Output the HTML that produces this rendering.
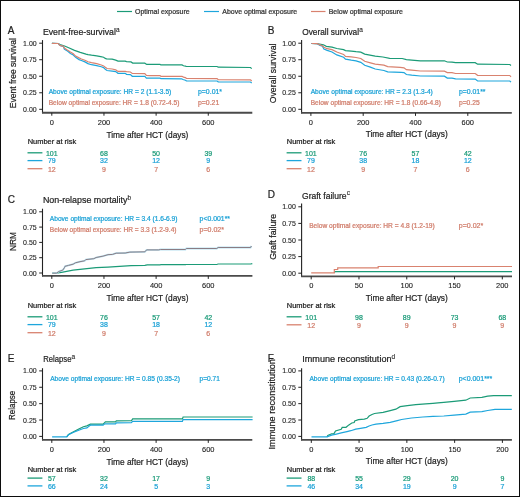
<!DOCTYPE html>
<html><head><meta charset="utf-8"><style>
html,body{margin:0;padding:0;background:#fff;}
#fig{position:relative;width:520px;height:497px;box-sizing:border-box;border:1px solid #0c0c0c;background:#fff;overflow:hidden;}
svg{position:absolute;left:-1px;top:-1px;}
text{font-family:"Liberation Sans", sans-serif;paint-order:stroke;}
svg{-webkit-font-smoothing:antialiased;will-change:transform;filter:blur(0.3px);}
</style></head><body><div id="fig">
<svg width="520" height="497" viewBox="0 0 520 497">
<line x1="117" y1="11.5" x2="132" y2="11.5" stroke="#1b9b77" stroke-width="1.2"/>
<text x="135" y="13.7" font-size="6.6" fill="#333" stroke="#333" stroke-width="0.22" text-anchor="start" textLength="54.7" lengthAdjust="spacingAndGlyphs">Optimal exposure</text>
<line x1="204" y1="11.5" x2="219" y2="11.5" stroke="#1ea6dc" stroke-width="1.2"/>
<text x="222.3" y="13.7" font-size="6.6" fill="#333" stroke="#333" stroke-width="0.22" text-anchor="start" textLength="74.8" lengthAdjust="spacingAndGlyphs">Above optimal exposure</text>
<line x1="311" y1="11.5" x2="325.5" y2="11.5" stroke="#d9826f" stroke-width="1.2"/>
<text x="328.7" y="13.7" font-size="6.6" fill="#333" stroke="#333" stroke-width="0.22" text-anchor="start" textLength="74.2" lengthAdjust="spacingAndGlyphs">Below optimal exposure</text>
<text x="7.8" y="34.4" font-size="10" fill="#222" stroke="#222" stroke-width="0.22" text-anchor="start">A</text>
<text x="42.9" y="35" font-size="9.3" fill="#222" stroke="#222" stroke-width="0.22" text-anchor="start" textLength="73" lengthAdjust="spacingAndGlyphs">Event-free-survival</text>
<text x="116.0" y="31.7" font-size="6.5" fill="#222" stroke="#222" stroke-width="0.1" text-anchor="start">a</text>
<line x1="42.5" y1="40.1" x2="42.5" y2="113.2" stroke="#222" stroke-width="1.1"/>
<line x1="39.2" y1="109.3" x2="42.5" y2="109.3" stroke="#222" stroke-width="1"/>
<text x="36.7" y="111.8" font-size="8" fill="#222" stroke="#222" stroke-width="0.12" text-anchor="end" textLength="13.6" lengthAdjust="spacingAndGlyphs">0.00</text>
<line x1="39.2" y1="92.775" x2="42.5" y2="92.775" stroke="#222" stroke-width="1"/>
<text x="36.7" y="95.275" font-size="8" fill="#222" stroke="#222" stroke-width="0.12" text-anchor="end" textLength="13.6" lengthAdjust="spacingAndGlyphs">0.25</text>
<line x1="39.2" y1="76.25" x2="42.5" y2="76.25" stroke="#222" stroke-width="1"/>
<text x="36.7" y="78.75" font-size="8" fill="#222" stroke="#222" stroke-width="0.12" text-anchor="end" textLength="13.6" lengthAdjust="spacingAndGlyphs">0.50</text>
<line x1="39.2" y1="59.725" x2="42.5" y2="59.725" stroke="#222" stroke-width="1"/>
<text x="36.7" y="62.225" font-size="8" fill="#222" stroke="#222" stroke-width="0.12" text-anchor="end" textLength="13.6" lengthAdjust="spacingAndGlyphs">0.75</text>
<line x1="39.2" y1="43.2" x2="42.5" y2="43.2" stroke="#222" stroke-width="1"/>
<text x="36.7" y="45.7" font-size="8" fill="#222" stroke="#222" stroke-width="0.12" text-anchor="end" textLength="13.6" lengthAdjust="spacingAndGlyphs">1.00</text>
<line x1="42.0" y1="112.7" x2="252.3" y2="112.7" stroke="#4a4a4a" stroke-width="1.9"/>
<line x1="51.8" y1="112.7" x2="51.8" y2="115.7" stroke="#222" stroke-width="1"/>
<text x="51.8" y="124.6" font-size="8" fill="#222" stroke="#222" stroke-width="0.12" text-anchor="middle" textLength="4.15" lengthAdjust="spacingAndGlyphs">0</text>
<line x1="103.96" y1="112.7" x2="103.96" y2="115.7" stroke="#222" stroke-width="1"/>
<text x="103.96" y="124.6" font-size="8" fill="#222" stroke="#222" stroke-width="0.12" text-anchor="middle" textLength="12.45" lengthAdjust="spacingAndGlyphs">200</text>
<line x1="156.12" y1="112.7" x2="156.12" y2="115.7" stroke="#222" stroke-width="1"/>
<text x="156.12" y="124.6" font-size="8" fill="#222" stroke="#222" stroke-width="0.12" text-anchor="middle" textLength="12.45" lengthAdjust="spacingAndGlyphs">400</text>
<line x1="208.27999999999997" y1="112.7" x2="208.27999999999997" y2="115.7" stroke="#222" stroke-width="1"/>
<text x="208.27999999999997" y="124.6" font-size="8" fill="#222" stroke="#222" stroke-width="0.12" text-anchor="middle" textLength="12.45" lengthAdjust="spacingAndGlyphs">600</text>
<text x="147.4" y="137.5" font-size="9.5" fill="#222" stroke="#222" stroke-width="0.22" text-anchor="middle" textLength="82" lengthAdjust="spacingAndGlyphs">Time after HCT (days)</text>
<text transform="translate(15.9,73.15) rotate(-90)" x="0" y="0" font-size="9.6" fill="#222" stroke="#222" stroke-width="0.22" text-anchor="middle" textLength="70.3" lengthAdjust="spacingAndGlyphs">Event free survival</text>
<text x="48.7" y="94.3" font-size="6.5" fill="#1aa1d6" stroke="#1aa1d6" stroke-width="0.22" text-anchor="start" textLength="122.6" lengthAdjust="spacingAndGlyphs">Above optimal exposure: HR = 2 (1.1-3.5)</text>
<text x="198" y="94.3" font-size="6.5" fill="#1aa1d6" stroke="#1aa1d6" stroke-width="0.22" text-anchor="start" textLength="24" lengthAdjust="spacingAndGlyphs">p=0.01*</text>
<text x="48.7" y="105" font-size="6.5" fill="#d07c6a" stroke="#d07c6a" stroke-width="0.22" text-anchor="start" textLength="130.7" lengthAdjust="spacingAndGlyphs">Below optimal exposure: HR = 1.8 (0.72-4.5)</text>
<text x="198" y="105" font-size="6.5" fill="#d07c6a" stroke="#d07c6a" stroke-width="0.22" text-anchor="start" textLength="21.3" lengthAdjust="spacingAndGlyphs">p=0.21</text>
<polyline points="51.90,43.40 58.20,43.50 60.00,44.50 64.60,46.00 68.70,47.80 74.50,50.40 80.20,52.40 86.00,54.10 88.00,54.60 91.50,55.20 96.70,55.80 100.70,56.60 103.60,57.20 105.30,58.40 106.50,58.90 112.20,59.20 115.70,60.10 118.00,61.10 125.20,61.10 126.50,61.60 131.00,61.90 132.70,63.10 144.80,63.20 146.70,64.40 160.00,64.40 160.90,64.90 182.00,64.90 183.50,65.80 185.40,66.10 186.40,66.50 217.10,66.50 218.20,67.20 250.50,67.50 251.70,68.60" fill="none" stroke="#1b9b77" stroke-width="1.2" stroke-linejoin="miter"/>
<polyline points="51.90,43.40 58.20,43.50 60.00,45.40 63.50,46.60 64.30,49.20 66.90,50.60 70.40,53.50 73.30,55.00 75.60,57.30 79.10,59.60 81.40,60.50 84.90,61.90 88.00,63.60 91.50,64.70 96.70,65.60 101.30,66.70 103.60,67.60 105.30,69.30 107.00,70.50 112.20,71.10 115.70,71.60 118.00,73.30 125.20,73.30 126.50,74.30 130.40,74.60 132.30,76.30 144.80,76.40 146.40,78.20 160.00,78.20 160.90,78.70 181.60,78.80 183.00,79.50 185.40,80.20 186.40,80.80 217.10,81.00 218.20,81.80 250.50,82.00 251.70,83.00" fill="none" stroke="#1ea6dc" stroke-width="1.2" stroke-linejoin="miter"/>
<polyline points="51.90,43.40 58.20,43.50 60.00,45.40 63.50,46.30 64.30,48.00 66.90,49.80 70.40,52.10 73.30,53.80 75.60,56.10 79.10,57.90 81.40,59.00 84.90,60.20 88.00,61.80 91.50,62.70 96.70,63.60 101.30,65.00 103.60,65.90 105.30,67.30 107.00,68.50 112.20,69.00 115.70,69.80 118.00,71.40 125.20,71.40 126.50,71.70 130.40,72.00 132.30,73.50 144.80,73.60 146.40,75.30 150.00,75.60 160.00,75.60 160.90,76.30 182.00,76.30 183.50,77.10 185.40,77.60 186.40,78.30 217.10,78.60 218.20,79.60 250.50,79.80 251.70,81.00" fill="none" stroke="#d9826f" stroke-width="1.2" stroke-linejoin="miter"/>
<text x="27.7" y="144.1" font-size="6.8" fill="#222" stroke="#222" stroke-width="0.22" text-anchor="start" textLength="48.5" lengthAdjust="spacingAndGlyphs">Number at risk</text>
<line x1="27.5" y1="152.8" x2="42.4" y2="152.8" stroke="#1b9b77" stroke-width="1.3"/>
<text x="51.8" y="155.65" font-size="7" fill="#1a9a78" stroke="#1a9a78" stroke-width="0.22" text-anchor="middle">101</text>
<text x="103.96" y="155.65" font-size="7" fill="#1a9a78" stroke="#1a9a78" stroke-width="0.22" text-anchor="middle">68</text>
<text x="156.12" y="155.65" font-size="7" fill="#1a9a78" stroke="#1a9a78" stroke-width="0.22" text-anchor="middle">50</text>
<text x="208.27999999999997" y="155.65" font-size="7" fill="#1a9a78" stroke="#1a9a78" stroke-width="0.22" text-anchor="middle">39</text>
<line x1="27.5" y1="160.6" x2="42.4" y2="160.6" stroke="#1ea6dc" stroke-width="1.3"/>
<text x="51.8" y="163.45" font-size="7" fill="#1aa1d6" stroke="#1aa1d6" stroke-width="0.22" text-anchor="middle">79</text>
<text x="103.96" y="163.45" font-size="7" fill="#1aa1d6" stroke="#1aa1d6" stroke-width="0.22" text-anchor="middle">32</text>
<text x="156.12" y="163.45" font-size="7" fill="#1aa1d6" stroke="#1aa1d6" stroke-width="0.22" text-anchor="middle">12</text>
<text x="208.27999999999997" y="163.45" font-size="7" fill="#1aa1d6" stroke="#1aa1d6" stroke-width="0.22" text-anchor="middle">9</text>
<line x1="27.5" y1="168.7" x2="42.4" y2="168.7" stroke="#d9826f" stroke-width="1.3"/>
<text x="51.8" y="171.54999999999998" font-size="7" fill="#d07c6a" stroke="#d07c6a" stroke-width="0.22" text-anchor="middle">12</text>
<text x="103.96" y="171.54999999999998" font-size="7" fill="#d07c6a" stroke="#d07c6a" stroke-width="0.22" text-anchor="middle">9</text>
<text x="156.12" y="171.54999999999998" font-size="7" fill="#d07c6a" stroke="#d07c6a" stroke-width="0.22" text-anchor="middle">7</text>
<text x="208.27999999999997" y="171.54999999999998" font-size="7" fill="#d07c6a" stroke="#d07c6a" stroke-width="0.22" text-anchor="middle">6</text>
<text x="267.8" y="34.4" font-size="10" fill="#222" stroke="#222" stroke-width="0.22" text-anchor="start">B</text>
<text x="302.2" y="35.1" font-size="9.3" fill="#222" stroke="#222" stroke-width="0.22" text-anchor="start" textLength="56.9" lengthAdjust="spacingAndGlyphs">Overall survival</text>
<text x="359.2" y="31.8" font-size="6.5" fill="#222" stroke="#222" stroke-width="0.1" text-anchor="start">a</text>
<line x1="301.6" y1="40.1" x2="301.6" y2="113.4" stroke="#222" stroke-width="1.1"/>
<line x1="298.3" y1="109.3" x2="301.6" y2="109.3" stroke="#222" stroke-width="1"/>
<text x="295.8" y="111.8" font-size="8" fill="#222" stroke="#222" stroke-width="0.12" text-anchor="end" textLength="13.6" lengthAdjust="spacingAndGlyphs">0.00</text>
<line x1="298.3" y1="92.775" x2="301.6" y2="92.775" stroke="#222" stroke-width="1"/>
<text x="295.8" y="95.275" font-size="8" fill="#222" stroke="#222" stroke-width="0.12" text-anchor="end" textLength="13.6" lengthAdjust="spacingAndGlyphs">0.25</text>
<line x1="298.3" y1="76.25" x2="301.6" y2="76.25" stroke="#222" stroke-width="1"/>
<text x="295.8" y="78.75" font-size="8" fill="#222" stroke="#222" stroke-width="0.12" text-anchor="end" textLength="13.6" lengthAdjust="spacingAndGlyphs">0.50</text>
<line x1="298.3" y1="59.725" x2="301.6" y2="59.725" stroke="#222" stroke-width="1"/>
<text x="295.8" y="62.225" font-size="8" fill="#222" stroke="#222" stroke-width="0.12" text-anchor="end" textLength="13.6" lengthAdjust="spacingAndGlyphs">0.75</text>
<line x1="298.3" y1="43.2" x2="301.6" y2="43.2" stroke="#222" stroke-width="1"/>
<text x="295.8" y="45.7" font-size="8" fill="#222" stroke="#222" stroke-width="0.12" text-anchor="end" textLength="13.6" lengthAdjust="spacingAndGlyphs">1.00</text>
<line x1="301.1" y1="112.9" x2="511.8" y2="112.9" stroke="#4a4a4a" stroke-width="1.9"/>
<line x1="310.9" y1="112.9" x2="310.9" y2="115.9" stroke="#222" stroke-width="1"/>
<text x="310.9" y="124.6" font-size="8" fill="#222" stroke="#222" stroke-width="0.12" text-anchor="middle" textLength="4.15" lengthAdjust="spacingAndGlyphs">0</text>
<line x1="363.2" y1="112.9" x2="363.2" y2="115.9" stroke="#222" stroke-width="1"/>
<text x="363.2" y="124.6" font-size="8" fill="#222" stroke="#222" stroke-width="0.12" text-anchor="middle" textLength="12.45" lengthAdjust="spacingAndGlyphs">200</text>
<line x1="415.5" y1="112.9" x2="415.5" y2="115.9" stroke="#222" stroke-width="1"/>
<text x="415.5" y="124.6" font-size="8" fill="#222" stroke="#222" stroke-width="0.12" text-anchor="middle" textLength="12.45" lengthAdjust="spacingAndGlyphs">400</text>
<line x1="467.79999999999995" y1="112.9" x2="467.79999999999995" y2="115.9" stroke="#222" stroke-width="1"/>
<text x="467.79999999999995" y="124.6" font-size="8" fill="#222" stroke="#222" stroke-width="0.12" text-anchor="middle" textLength="12.45" lengthAdjust="spacingAndGlyphs">600</text>
<text x="406.70000000000005" y="137.3" font-size="9.5" fill="#222" stroke="#222" stroke-width="0.22" text-anchor="middle" textLength="82" lengthAdjust="spacingAndGlyphs">Time after HCT (days)</text>
<text transform="translate(275.7,73.4) rotate(-90)" x="0" y="0" font-size="9.6" fill="#222" stroke="#222" stroke-width="0.22" text-anchor="middle" textLength="59.9" lengthAdjust="spacingAndGlyphs">Overall survival</text>
<text x="310.7" y="94.4" font-size="6.5" fill="#1aa1d6" stroke="#1aa1d6" stroke-width="0.22" text-anchor="start" textLength="122.1" lengthAdjust="spacingAndGlyphs">Above optimal exposure: HR = 2.3 (1.3-4)</text>
<text x="458.9" y="94.4" font-size="6.5" fill="#1aa1d6" stroke="#1aa1d6" stroke-width="0.22" text-anchor="start" textLength="26.6" lengthAdjust="spacingAndGlyphs">p=0.01**</text>
<text x="310.7" y="104.9" font-size="6.5" fill="#d07c6a" stroke="#d07c6a" stroke-width="0.22" text-anchor="start" textLength="130.2" lengthAdjust="spacingAndGlyphs">Below optimal exposure: HR = 1.8 (0.66-4.8)</text>
<text x="458.9" y="104.9" font-size="6.5" fill="#d07c6a" stroke="#d07c6a" stroke-width="0.22" text-anchor="start" textLength="20.8" lengthAdjust="spacingAndGlyphs">p=0.25</text>
<polyline points="311.40,43.50 317.10,43.60 319.50,44.00 323.40,44.80 326.30,46.30 332.00,47.20 336.80,48.50 343.60,49.60 345.50,50.60 351.30,51.10 356.00,51.70 360.80,52.20 364.70,54.10 375.20,56.10 382.90,57.00 389.70,58.30 402.20,58.50 406.40,59.60 411.70,60.10 420.30,60.80 444.40,60.80 447.30,62.00 452.00,62.10 455.60,62.70 475.20,62.70 477.60,64.20 509.80,64.50 511.00,65.50" fill="none" stroke="#1b9b77" stroke-width="1.2" stroke-linejoin="miter"/>
<polyline points="311.40,43.50 317.10,43.60 319.50,45.30 322.40,46.30 323.90,49.10 327.20,50.40 332.00,52.00 336.80,54.90 343.60,57.30 345.50,59.20 351.30,60.20 356.00,60.90 360.80,62.30 364.70,65.20 370.40,67.10 375.20,69.00 383.90,70.50 387.70,71.90 401.20,72.40 404.00,72.60 406.40,74.50 411.70,75.20 420.30,76.00 444.40,76.20 447.30,78.10 452.00,78.20 455.60,78.80 475.20,79.10 477.60,81.00 509.80,81.00 511.00,82.20" fill="none" stroke="#1ea6dc" stroke-width="1.2" stroke-linejoin="miter"/>
<polyline points="311.40,43.50 317.10,43.60 319.50,44.60 322.40,45.80 323.90,47.20 327.20,48.70 332.00,49.60 336.80,52.00 343.60,54.40 345.50,56.30 351.30,56.80 356.00,57.50 360.80,58.50 364.70,61.30 370.40,62.80 375.20,64.20 383.90,65.20 387.70,66.60 400.20,67.30 404.00,67.80 406.40,69.70 411.70,70.20 420.30,71.00 444.40,71.20 447.30,72.60 452.00,72.70 455.60,73.50 475.20,73.50 477.60,75.30 509.80,75.50 511.00,77.00" fill="none" stroke="#d9826f" stroke-width="1.2" stroke-linejoin="miter"/>
<text x="286.8" y="144.1" font-size="6.8" fill="#222" stroke="#222" stroke-width="0.22" text-anchor="start" textLength="48.5" lengthAdjust="spacingAndGlyphs">Number at risk</text>
<line x1="286.6" y1="152.8" x2="301.5" y2="152.8" stroke="#1b9b77" stroke-width="1.3"/>
<text x="310.9" y="155.65" font-size="7" fill="#1a9a78" stroke="#1a9a78" stroke-width="0.22" text-anchor="middle">101</text>
<text x="363.2" y="155.65" font-size="7" fill="#1a9a78" stroke="#1a9a78" stroke-width="0.22" text-anchor="middle">76</text>
<text x="415.5" y="155.65" font-size="7" fill="#1a9a78" stroke="#1a9a78" stroke-width="0.22" text-anchor="middle">57</text>
<text x="467.79999999999995" y="155.65" font-size="7" fill="#1a9a78" stroke="#1a9a78" stroke-width="0.22" text-anchor="middle">42</text>
<line x1="286.6" y1="160.6" x2="301.5" y2="160.6" stroke="#1ea6dc" stroke-width="1.3"/>
<text x="310.9" y="163.45" font-size="7" fill="#1aa1d6" stroke="#1aa1d6" stroke-width="0.22" text-anchor="middle">79</text>
<text x="363.2" y="163.45" font-size="7" fill="#1aa1d6" stroke="#1aa1d6" stroke-width="0.22" text-anchor="middle">38</text>
<text x="415.5" y="163.45" font-size="7" fill="#1aa1d6" stroke="#1aa1d6" stroke-width="0.22" text-anchor="middle">18</text>
<text x="467.79999999999995" y="163.45" font-size="7" fill="#1aa1d6" stroke="#1aa1d6" stroke-width="0.22" text-anchor="middle">12</text>
<line x1="286.6" y1="168.7" x2="301.5" y2="168.7" stroke="#d9826f" stroke-width="1.3"/>
<text x="310.9" y="171.54999999999998" font-size="7" fill="#d07c6a" stroke="#d07c6a" stroke-width="0.22" text-anchor="middle">12</text>
<text x="363.2" y="171.54999999999998" font-size="7" fill="#d07c6a" stroke="#d07c6a" stroke-width="0.22" text-anchor="middle">9</text>
<text x="415.5" y="171.54999999999998" font-size="7" fill="#d07c6a" stroke="#d07c6a" stroke-width="0.22" text-anchor="middle">7</text>
<text x="467.79999999999995" y="171.54999999999998" font-size="7" fill="#d07c6a" stroke="#d07c6a" stroke-width="0.22" text-anchor="middle">6</text>
<text x="7.8" y="202.8" font-size="10" fill="#222" stroke="#222" stroke-width="0.22" text-anchor="start">C</text>
<text x="42.9" y="203.0" font-size="9.3" fill="#222" stroke="#222" stroke-width="0.22" text-anchor="start" textLength="84.6" lengthAdjust="spacingAndGlyphs">Non-relapse mortality</text>
<text x="127.6" y="199.7" font-size="6.5" fill="#222" stroke="#222" stroke-width="0.1" text-anchor="start">b</text>
<line x1="42.5" y1="208.7" x2="42.5" y2="276.4" stroke="#222" stroke-width="1.1"/>
<line x1="39.2" y1="273.0" x2="42.5" y2="273.0" stroke="#222" stroke-width="1"/>
<text x="36.7" y="275.5" font-size="8" fill="#222" stroke="#222" stroke-width="0.12" text-anchor="end" textLength="13.6" lengthAdjust="spacingAndGlyphs">0.00</text>
<line x1="39.2" y1="257.7" x2="42.5" y2="257.7" stroke="#222" stroke-width="1"/>
<text x="36.7" y="260.2" font-size="8" fill="#222" stroke="#222" stroke-width="0.12" text-anchor="end" textLength="13.6" lengthAdjust="spacingAndGlyphs">0.25</text>
<line x1="39.2" y1="242.4" x2="42.5" y2="242.4" stroke="#222" stroke-width="1"/>
<text x="36.7" y="244.9" font-size="8" fill="#222" stroke="#222" stroke-width="0.12" text-anchor="end" textLength="13.6" lengthAdjust="spacingAndGlyphs">0.50</text>
<line x1="39.2" y1="227.10000000000002" x2="42.5" y2="227.10000000000002" stroke="#222" stroke-width="1"/>
<text x="36.7" y="229.60000000000002" font-size="8" fill="#222" stroke="#222" stroke-width="0.12" text-anchor="end" textLength="13.6" lengthAdjust="spacingAndGlyphs">0.75</text>
<line x1="39.2" y1="211.8" x2="42.5" y2="211.8" stroke="#222" stroke-width="1"/>
<text x="36.7" y="214.3" font-size="8" fill="#222" stroke="#222" stroke-width="0.12" text-anchor="end" textLength="13.6" lengthAdjust="spacingAndGlyphs">1.00</text>
<line x1="42.0" y1="275.9" x2="252.4" y2="275.9" stroke="#4a4a4a" stroke-width="1.9"/>
<line x1="51.8" y1="275.9" x2="51.8" y2="278.9" stroke="#222" stroke-width="1"/>
<text x="51.8" y="287.7" font-size="8" fill="#222" stroke="#222" stroke-width="0.12" text-anchor="middle" textLength="4.15" lengthAdjust="spacingAndGlyphs">0</text>
<line x1="103.96" y1="275.9" x2="103.96" y2="278.9" stroke="#222" stroke-width="1"/>
<text x="103.96" y="287.7" font-size="8" fill="#222" stroke="#222" stroke-width="0.12" text-anchor="middle" textLength="12.45" lengthAdjust="spacingAndGlyphs">200</text>
<line x1="156.12" y1="275.9" x2="156.12" y2="278.9" stroke="#222" stroke-width="1"/>
<text x="156.12" y="287.7" font-size="8" fill="#222" stroke="#222" stroke-width="0.12" text-anchor="middle" textLength="12.45" lengthAdjust="spacingAndGlyphs">400</text>
<line x1="208.27999999999997" y1="275.9" x2="208.27999999999997" y2="278.9" stroke="#222" stroke-width="1"/>
<text x="208.27999999999997" y="287.7" font-size="8" fill="#222" stroke="#222" stroke-width="0.12" text-anchor="middle" textLength="12.45" lengthAdjust="spacingAndGlyphs">600</text>
<text x="147.45" y="301.1" font-size="9.5" fill="#222" stroke="#222" stroke-width="0.22" text-anchor="middle" textLength="82" lengthAdjust="spacingAndGlyphs">Time after HCT (days)</text>
<text transform="translate(15.8,241.5) rotate(-90)" x="0" y="0" font-size="9.6" fill="#222" stroke="#222" stroke-width="0.22" text-anchor="middle" textLength="19.0" lengthAdjust="spacingAndGlyphs">NRM</text>
<text x="49.8" y="221.2" font-size="6.5" fill="#1aa1d6" stroke="#1aa1d6" stroke-width="0.22" text-anchor="start" textLength="127.7" lengthAdjust="spacingAndGlyphs">Above optimal exposure: HR = 3.4 (1.6-6.9)</text>
<text x="199.6" y="221.2" font-size="6.5" fill="#1aa1d6" stroke="#1aa1d6" stroke-width="0.22" text-anchor="start" textLength="30.4" lengthAdjust="spacingAndGlyphs">p&lt;0.001**</text>
<text x="49.8" y="231.9" font-size="6.5" fill="#d07c6a" stroke="#d07c6a" stroke-width="0.22" text-anchor="start" textLength="126.7" lengthAdjust="spacingAndGlyphs">Below optimal exposure: HR = 3.3 (1.2-9.4)</text>
<text x="199.6" y="231.9" font-size="6.5" fill="#d07c6a" stroke="#d07c6a" stroke-width="0.22" text-anchor="start" textLength="24.4" lengthAdjust="spacingAndGlyphs">p=0.02*</text>
<polyline points="52.30,273.20 56.30,273.20 61.50,272.30 73.10,270.20 84.60,268.80 96.10,267.70 108.00,267.10 119.50,266.30 131.10,265.70 144.90,265.30 147.20,264.80 159.90,264.80 161.00,264.70 185.50,264.70 186.30,264.50 216.80,264.50 218.10,264.00 250.60,264.00 252.30,263.60" fill="none" stroke="#1b9b77" stroke-width="1.2" stroke-linejoin="miter"/>
<polyline points="52.30,273.20 56.30,273.20 59.20,271.40 62.70,270.20 64.40,267.70 65.00,266.30 68.50,265.40 73.10,264.20 75.40,262.80 80.00,261.70 84.60,260.80 85.80,259.60 93.80,258.70 96.10,257.50 103.10,256.10 108.00,254.70 112.60,254.40 116.10,253.20 125.30,253.00 129.90,252.10 144.90,251.80 146.60,249.90 158.70,249.90 160.50,249.50 185.50,249.50 186.30,248.50 216.80,248.50 218.10,247.50 250.60,247.50 251.40,246.00" fill="none" stroke="#b5e0f0" stroke-width="1.8" stroke-linejoin="miter"/>
<polyline points="52.30,273.20 56.30,273.20 59.20,271.40 62.70,270.20 64.40,267.70 65.00,266.30 68.50,265.40 73.10,264.20 75.40,262.80 80.00,261.70 84.60,260.80 85.80,259.60 93.80,258.70 96.10,257.50 103.10,256.10 108.00,254.70 112.60,254.40 116.10,253.20 125.30,253.00 129.90,252.10 144.90,251.80 146.60,249.90 158.70,249.90 160.50,249.50 185.50,249.50 186.30,248.50 216.80,248.50 218.10,247.50 250.60,247.50 251.40,246.00" fill="none" stroke="#8a7c84" stroke-width="1.0" stroke-linejoin="miter"/>
<text x="27.7" y="308.1" font-size="6.8" fill="#222" stroke="#222" stroke-width="0.22" text-anchor="start" textLength="48.5" lengthAdjust="spacingAndGlyphs">Number at risk</text>
<line x1="27.5" y1="316.8" x2="42.4" y2="316.8" stroke="#1b9b77" stroke-width="1.3"/>
<text x="51.8" y="319.65000000000003" font-size="7" fill="#1a9a78" stroke="#1a9a78" stroke-width="0.22" text-anchor="middle">101</text>
<text x="103.96" y="319.65000000000003" font-size="7" fill="#1a9a78" stroke="#1a9a78" stroke-width="0.22" text-anchor="middle">76</text>
<text x="156.12" y="319.65000000000003" font-size="7" fill="#1a9a78" stroke="#1a9a78" stroke-width="0.22" text-anchor="middle">57</text>
<text x="208.27999999999997" y="319.65000000000003" font-size="7" fill="#1a9a78" stroke="#1a9a78" stroke-width="0.22" text-anchor="middle">42</text>
<line x1="27.5" y1="324.6" x2="42.4" y2="324.6" stroke="#1ea6dc" stroke-width="1.3"/>
<text x="51.8" y="327.45000000000005" font-size="7" fill="#1aa1d6" stroke="#1aa1d6" stroke-width="0.22" text-anchor="middle">79</text>
<text x="103.96" y="327.45000000000005" font-size="7" fill="#1aa1d6" stroke="#1aa1d6" stroke-width="0.22" text-anchor="middle">38</text>
<text x="156.12" y="327.45000000000005" font-size="7" fill="#1aa1d6" stroke="#1aa1d6" stroke-width="0.22" text-anchor="middle">18</text>
<text x="208.27999999999997" y="327.45000000000005" font-size="7" fill="#1aa1d6" stroke="#1aa1d6" stroke-width="0.22" text-anchor="middle">12</text>
<line x1="27.5" y1="332.7" x2="42.4" y2="332.7" stroke="#d9826f" stroke-width="1.3"/>
<text x="51.8" y="335.55" font-size="7" fill="#d07c6a" stroke="#d07c6a" stroke-width="0.22" text-anchor="middle">12</text>
<text x="103.96" y="335.55" font-size="7" fill="#d07c6a" stroke="#d07c6a" stroke-width="0.22" text-anchor="middle">9</text>
<text x="156.12" y="335.55" font-size="7" fill="#d07c6a" stroke="#d07c6a" stroke-width="0.22" text-anchor="middle">7</text>
<text x="208.27999999999997" y="335.55" font-size="7" fill="#d07c6a" stroke="#d07c6a" stroke-width="0.22" text-anchor="middle">6</text>
<text x="267.8" y="197.5" font-size="10" fill="#222" stroke="#222" stroke-width="0.22" text-anchor="start">D</text>
<text x="302" y="198.5" font-size="9.3" fill="#222" stroke="#222" stroke-width="0.22" text-anchor="start" textLength="44.6" lengthAdjust="spacingAndGlyphs">Graft failure</text>
<text x="346.70000000000005" y="195.2" font-size="6.5" fill="#222" stroke="#222" stroke-width="0.1" text-anchor="start">c</text>
<line x1="301.6" y1="203.5" x2="301.6" y2="276.9" stroke="#222" stroke-width="1.1"/>
<line x1="298.3" y1="273.2" x2="301.6" y2="273.2" stroke="#222" stroke-width="1"/>
<text x="295.8" y="275.7" font-size="8" fill="#222" stroke="#222" stroke-width="0.12" text-anchor="end" textLength="13.6" lengthAdjust="spacingAndGlyphs">0.00</text>
<line x1="298.3" y1="256.6" x2="301.6" y2="256.6" stroke="#222" stroke-width="1"/>
<text x="295.8" y="259.1" font-size="8" fill="#222" stroke="#222" stroke-width="0.12" text-anchor="end" textLength="13.6" lengthAdjust="spacingAndGlyphs">0.25</text>
<line x1="298.3" y1="240.0" x2="301.6" y2="240.0" stroke="#222" stroke-width="1"/>
<text x="295.8" y="242.5" font-size="8" fill="#222" stroke="#222" stroke-width="0.12" text-anchor="end" textLength="13.6" lengthAdjust="spacingAndGlyphs">0.50</text>
<line x1="298.3" y1="223.4" x2="301.6" y2="223.4" stroke="#222" stroke-width="1"/>
<text x="295.8" y="225.9" font-size="8" fill="#222" stroke="#222" stroke-width="0.12" text-anchor="end" textLength="13.6" lengthAdjust="spacingAndGlyphs">0.75</text>
<line x1="298.3" y1="206.8" x2="301.6" y2="206.8" stroke="#222" stroke-width="1"/>
<text x="295.8" y="209.3" font-size="8" fill="#222" stroke="#222" stroke-width="0.12" text-anchor="end" textLength="13.6" lengthAdjust="spacingAndGlyphs">1.00</text>
<line x1="301.1" y1="276.4" x2="512" y2="276.4" stroke="#4a4a4a" stroke-width="1.9"/>
<line x1="311.2" y1="276.4" x2="311.2" y2="279.4" stroke="#222" stroke-width="1"/>
<text x="311.2" y="287.5" font-size="8" fill="#222" stroke="#222" stroke-width="0.12" text-anchor="middle" textLength="4.15" lengthAdjust="spacingAndGlyphs">0</text>
<line x1="358.97499999999997" y1="276.4" x2="358.97499999999997" y2="279.4" stroke="#222" stroke-width="1"/>
<text x="358.97499999999997" y="287.5" font-size="8" fill="#222" stroke="#222" stroke-width="0.12" text-anchor="middle" textLength="8.3" lengthAdjust="spacingAndGlyphs">50</text>
<line x1="406.75" y1="276.4" x2="406.75" y2="279.4" stroke="#222" stroke-width="1"/>
<text x="406.75" y="287.5" font-size="8" fill="#222" stroke="#222" stroke-width="0.12" text-anchor="middle" textLength="12.45" lengthAdjust="spacingAndGlyphs">100</text>
<line x1="454.525" y1="276.4" x2="454.525" y2="279.4" stroke="#222" stroke-width="1"/>
<text x="454.525" y="287.5" font-size="8" fill="#222" stroke="#222" stroke-width="0.12" text-anchor="middle" textLength="12.45" lengthAdjust="spacingAndGlyphs">150</text>
<line x1="502.29999999999995" y1="276.4" x2="502.29999999999995" y2="279.4" stroke="#222" stroke-width="1"/>
<text x="502.29999999999995" y="287.5" font-size="8" fill="#222" stroke="#222" stroke-width="0.12" text-anchor="middle" textLength="12.45" lengthAdjust="spacingAndGlyphs">200</text>
<text x="406.8" y="301.1" font-size="9.5" fill="#222" stroke="#222" stroke-width="0.22" text-anchor="middle" textLength="82" lengthAdjust="spacingAndGlyphs">Time after HCT (days)</text>
<text transform="translate(275.7,236.8) rotate(-90)" x="0" y="0" font-size="9.6" fill="#222" stroke="#222" stroke-width="0.22" text-anchor="middle" textLength="46.0" lengthAdjust="spacingAndGlyphs">Graft failure</text>
<text x="309.2" y="227.6" font-size="6.5" fill="#d07c6a" stroke="#d07c6a" stroke-width="0.22" text-anchor="start" textLength="125.6" lengthAdjust="spacingAndGlyphs">Below optimal exposure: HR = 4.8 (1.2-19)</text>
<text x="458.8" y="227.6" font-size="6.5" fill="#d07c6a" stroke="#d07c6a" stroke-width="0.22" text-anchor="start" textLength="24.4" lengthAdjust="spacingAndGlyphs">p=0.02*</text>
<polyline points="334.30,272.60 335.00,271.60 512.00,271.60" fill="none" stroke="#1b9b77" stroke-width="1.2" stroke-linejoin="miter"/>
<polyline points="311.20,272.90 334.30,272.90 334.30,269.50 337.70,269.50 337.70,267.80 378.20,267.80 378.20,266.50 512.00,266.50" fill="none" stroke="#d9826f" stroke-width="1.2" stroke-linejoin="miter"/>
<text x="286.8" y="308.1" font-size="6.8" fill="#222" stroke="#222" stroke-width="0.22" text-anchor="start" textLength="48.5" lengthAdjust="spacingAndGlyphs">Number at risk</text>
<line x1="286.6" y1="316.8" x2="301.5" y2="316.8" stroke="#1b9b77" stroke-width="1.3"/>
<text x="311.2" y="319.65000000000003" font-size="7" fill="#1a9a78" stroke="#1a9a78" stroke-width="0.22" text-anchor="middle">101</text>
<text x="358.97499999999997" y="319.65000000000003" font-size="7" fill="#1a9a78" stroke="#1a9a78" stroke-width="0.22" text-anchor="middle">98</text>
<text x="406.75" y="319.65000000000003" font-size="7" fill="#1a9a78" stroke="#1a9a78" stroke-width="0.22" text-anchor="middle">89</text>
<text x="454.525" y="319.65000000000003" font-size="7" fill="#1a9a78" stroke="#1a9a78" stroke-width="0.22" text-anchor="middle">73</text>
<text x="502.29999999999995" y="319.65000000000003" font-size="7" fill="#1a9a78" stroke="#1a9a78" stroke-width="0.22" text-anchor="middle">68</text>
<line x1="286.6" y1="324.8" x2="301.5" y2="324.8" stroke="#d9826f" stroke-width="1.3"/>
<text x="311.2" y="327.65000000000003" font-size="7" fill="#d07c6a" stroke="#d07c6a" stroke-width="0.22" text-anchor="middle">12</text>
<text x="358.97499999999997" y="327.65000000000003" font-size="7" fill="#d07c6a" stroke="#d07c6a" stroke-width="0.22" text-anchor="middle">9</text>
<text x="406.75" y="327.65000000000003" font-size="7" fill="#d07c6a" stroke="#d07c6a" stroke-width="0.22" text-anchor="middle">9</text>
<text x="454.525" y="327.65000000000003" font-size="7" fill="#d07c6a" stroke="#d07c6a" stroke-width="0.22" text-anchor="middle">9</text>
<text x="502.29999999999995" y="327.65000000000003" font-size="7" fill="#d07c6a" stroke="#d07c6a" stroke-width="0.22" text-anchor="middle">9</text>
<text x="7.8" y="362" font-size="10" fill="#222" stroke="#222" stroke-width="0.22" text-anchor="start">E</text>
<text x="43.3" y="361.8" font-size="9.3" fill="#222" stroke="#222" stroke-width="0.22" text-anchor="start" textLength="28.2" lengthAdjust="spacingAndGlyphs">Relapse</text>
<text x="71.6" y="358.5" font-size="6.5" fill="#222" stroke="#222" stroke-width="0.1" text-anchor="start">a</text>
<line x1="42.5" y1="368.2" x2="42.5" y2="440.4" stroke="#222" stroke-width="1.1"/>
<line x1="39.2" y1="436.4" x2="42.5" y2="436.4" stroke="#222" stroke-width="1"/>
<text x="36.7" y="438.9" font-size="8" fill="#222" stroke="#222" stroke-width="0.12" text-anchor="end" textLength="13.6" lengthAdjust="spacingAndGlyphs">0.00</text>
<line x1="39.2" y1="420.025" x2="42.5" y2="420.025" stroke="#222" stroke-width="1"/>
<text x="36.7" y="422.525" font-size="8" fill="#222" stroke="#222" stroke-width="0.12" text-anchor="end" textLength="13.6" lengthAdjust="spacingAndGlyphs">0.25</text>
<line x1="39.2" y1="403.65" x2="42.5" y2="403.65" stroke="#222" stroke-width="1"/>
<text x="36.7" y="406.15" font-size="8" fill="#222" stroke="#222" stroke-width="0.12" text-anchor="end" textLength="13.6" lengthAdjust="spacingAndGlyphs">0.50</text>
<line x1="39.2" y1="387.275" x2="42.5" y2="387.275" stroke="#222" stroke-width="1"/>
<text x="36.7" y="389.775" font-size="8" fill="#222" stroke="#222" stroke-width="0.12" text-anchor="end" textLength="13.6" lengthAdjust="spacingAndGlyphs">0.75</text>
<line x1="39.2" y1="370.9" x2="42.5" y2="370.9" stroke="#222" stroke-width="1"/>
<text x="36.7" y="373.4" font-size="8" fill="#222" stroke="#222" stroke-width="0.12" text-anchor="end" textLength="13.6" lengthAdjust="spacingAndGlyphs">1.00</text>
<line x1="42.0" y1="439.9" x2="252.3" y2="439.9" stroke="#4a4a4a" stroke-width="1.9"/>
<line x1="51.8" y1="439.9" x2="51.8" y2="442.9" stroke="#222" stroke-width="1"/>
<text x="51.8" y="451.6" font-size="8" fill="#222" stroke="#222" stroke-width="0.12" text-anchor="middle" textLength="4.15" lengthAdjust="spacingAndGlyphs">0</text>
<line x1="103.96" y1="439.9" x2="103.96" y2="442.9" stroke="#222" stroke-width="1"/>
<text x="103.96" y="451.6" font-size="8" fill="#222" stroke="#222" stroke-width="0.12" text-anchor="middle" textLength="12.45" lengthAdjust="spacingAndGlyphs">200</text>
<line x1="156.12" y1="439.9" x2="156.12" y2="442.9" stroke="#222" stroke-width="1"/>
<text x="156.12" y="451.6" font-size="8" fill="#222" stroke="#222" stroke-width="0.12" text-anchor="middle" textLength="12.45" lengthAdjust="spacingAndGlyphs">400</text>
<line x1="208.27999999999997" y1="439.9" x2="208.27999999999997" y2="442.9" stroke="#222" stroke-width="1"/>
<text x="208.27999999999997" y="451.6" font-size="8" fill="#222" stroke="#222" stroke-width="0.12" text-anchor="middle" textLength="12.45" lengthAdjust="spacingAndGlyphs">600</text>
<text x="147.4" y="464.7" font-size="9.5" fill="#222" stroke="#222" stroke-width="0.22" text-anchor="middle" textLength="82" lengthAdjust="spacingAndGlyphs">Time after HCT (days)</text>
<text transform="translate(15.2,405.35) rotate(-90)" x="0" y="0" font-size="9.6" fill="#222" stroke="#222" stroke-width="0.22" text-anchor="middle" textLength="29.1" lengthAdjust="spacingAndGlyphs">Relapse</text>
<text x="50.2" y="381" font-size="6.5" fill="#1aa1d6" stroke="#1aa1d6" stroke-width="0.22" text-anchor="start" textLength="129.8" lengthAdjust="spacingAndGlyphs">Above optimal exposure: HR = 0.85 (0.35-2)</text>
<text x="199.6" y="381" font-size="6.5" fill="#1aa1d6" stroke="#1aa1d6" stroke-width="0.22" text-anchor="start" textLength="20.2" lengthAdjust="spacingAndGlyphs">p=0.71</text>
<polyline points="66.70,436.90 68.50,434.50 73.10,432.00 78.80,429.00 83.40,426.70 86.90,425.90 90.40,424.10 103.10,424.10 105.40,421.90 115.60,421.90 116.30,420.80 131.50,420.70 132.70,418.90 182.40,418.90 183.10,417.00 252.60,417.00" fill="none" stroke="#1b9b77" stroke-width="1.2" stroke-linejoin="miter"/>
<polyline points="52.10,436.90 66.70,436.90 68.50,434.80 73.10,432.50 78.80,430.20 83.40,428.50 86.90,427.90 89.20,426.10 90.40,425.20 103.10,425.20 104.80,423.80 115.60,423.80 116.30,422.90 131.30,422.70 132.70,421.30 182.40,421.30 183.10,419.60 252.60,419.60" fill="none" stroke="#1ea6dc" stroke-width="1.2" stroke-linejoin="miter"/>
<text x="27.7" y="472.3" font-size="6.8" fill="#222" stroke="#222" stroke-width="0.22" text-anchor="start" textLength="48.5" lengthAdjust="spacingAndGlyphs">Number at risk</text>
<line x1="27.5" y1="478.1" x2="42.4" y2="478.1" stroke="#1b9b77" stroke-width="1.3"/>
<text x="51.8" y="480.95000000000005" font-size="7" fill="#1a9a78" stroke="#1a9a78" stroke-width="0.22" text-anchor="middle">57</text>
<text x="103.96" y="480.95000000000005" font-size="7" fill="#1a9a78" stroke="#1a9a78" stroke-width="0.22" text-anchor="middle">32</text>
<text x="156.12" y="480.95000000000005" font-size="7" fill="#1a9a78" stroke="#1a9a78" stroke-width="0.22" text-anchor="middle">17</text>
<text x="208.27999999999997" y="480.95000000000005" font-size="7" fill="#1a9a78" stroke="#1a9a78" stroke-width="0.22" text-anchor="middle">9</text>
<line x1="27.5" y1="485.9" x2="42.4" y2="485.9" stroke="#1ea6dc" stroke-width="1.3"/>
<text x="51.8" y="488.75" font-size="7" fill="#1aa1d6" stroke="#1aa1d6" stroke-width="0.22" text-anchor="middle">66</text>
<text x="103.96" y="488.75" font-size="7" fill="#1aa1d6" stroke="#1aa1d6" stroke-width="0.22" text-anchor="middle">24</text>
<text x="156.12" y="488.75" font-size="7" fill="#1aa1d6" stroke="#1aa1d6" stroke-width="0.22" text-anchor="middle">5</text>
<text x="208.27999999999997" y="488.75" font-size="7" fill="#1aa1d6" stroke="#1aa1d6" stroke-width="0.22" text-anchor="middle">3</text>
<text x="267.8" y="361.5" font-size="10" fill="#222" stroke="#222" stroke-width="0.22" text-anchor="start">F</text>
<text x="302.3" y="362.1" font-size="9.3" fill="#222" stroke="#222" stroke-width="0.22" text-anchor="start" textLength="89.2" lengthAdjust="spacingAndGlyphs">Immune reconstitution</text>
<text x="391.6" y="358.8" font-size="6.5" fill="#222" stroke="#222" stroke-width="0.1" text-anchor="start">d</text>
<line x1="301.6" y1="368.2" x2="301.6" y2="440.4" stroke="#222" stroke-width="1.1"/>
<line x1="298.3" y1="436.4" x2="301.6" y2="436.4" stroke="#222" stroke-width="1"/>
<text x="295.8" y="438.9" font-size="8" fill="#222" stroke="#222" stroke-width="0.12" text-anchor="end" textLength="13.6" lengthAdjust="spacingAndGlyphs">0.00</text>
<line x1="298.3" y1="420.025" x2="301.6" y2="420.025" stroke="#222" stroke-width="1"/>
<text x="295.8" y="422.525" font-size="8" fill="#222" stroke="#222" stroke-width="0.12" text-anchor="end" textLength="13.6" lengthAdjust="spacingAndGlyphs">0.25</text>
<line x1="298.3" y1="403.65" x2="301.6" y2="403.65" stroke="#222" stroke-width="1"/>
<text x="295.8" y="406.15" font-size="8" fill="#222" stroke="#222" stroke-width="0.12" text-anchor="end" textLength="13.6" lengthAdjust="spacingAndGlyphs">0.50</text>
<line x1="298.3" y1="387.275" x2="301.6" y2="387.275" stroke="#222" stroke-width="1"/>
<text x="295.8" y="389.775" font-size="8" fill="#222" stroke="#222" stroke-width="0.12" text-anchor="end" textLength="13.6" lengthAdjust="spacingAndGlyphs">0.75</text>
<line x1="298.3" y1="370.9" x2="301.6" y2="370.9" stroke="#222" stroke-width="1"/>
<text x="295.8" y="373.4" font-size="8" fill="#222" stroke="#222" stroke-width="0.12" text-anchor="end" textLength="13.6" lengthAdjust="spacingAndGlyphs">1.00</text>
<line x1="301.1" y1="439.9" x2="511.9" y2="439.9" stroke="#4a4a4a" stroke-width="1.9"/>
<line x1="311.3" y1="439.9" x2="311.3" y2="442.9" stroke="#222" stroke-width="1"/>
<text x="311.3" y="451.6" font-size="8" fill="#222" stroke="#222" stroke-width="0.12" text-anchor="middle" textLength="4.15" lengthAdjust="spacingAndGlyphs">0</text>
<line x1="359.075" y1="439.9" x2="359.075" y2="442.9" stroke="#222" stroke-width="1"/>
<text x="359.075" y="451.6" font-size="8" fill="#222" stroke="#222" stroke-width="0.12" text-anchor="middle" textLength="8.3" lengthAdjust="spacingAndGlyphs">50</text>
<line x1="406.85" y1="439.9" x2="406.85" y2="442.9" stroke="#222" stroke-width="1"/>
<text x="406.85" y="451.6" font-size="8" fill="#222" stroke="#222" stroke-width="0.12" text-anchor="middle" textLength="12.45" lengthAdjust="spacingAndGlyphs">100</text>
<line x1="454.625" y1="439.9" x2="454.625" y2="442.9" stroke="#222" stroke-width="1"/>
<text x="454.625" y="451.6" font-size="8" fill="#222" stroke="#222" stroke-width="0.12" text-anchor="middle" textLength="12.45" lengthAdjust="spacingAndGlyphs">150</text>
<line x1="502.4" y1="439.9" x2="502.4" y2="442.9" stroke="#222" stroke-width="1"/>
<text x="502.4" y="451.6" font-size="8" fill="#222" stroke="#222" stroke-width="0.12" text-anchor="middle" textLength="12.45" lengthAdjust="spacingAndGlyphs">200</text>
<text x="406.75" y="464.3" font-size="9.5" fill="#222" stroke="#222" stroke-width="0.22" text-anchor="middle" textLength="82" lengthAdjust="spacingAndGlyphs">Time after HCT (days)</text>
<text transform="translate(275.3,404.3) rotate(-90)" x="0" y="0" font-size="9.6" fill="#222" stroke="#222" stroke-width="0.22" text-anchor="middle" textLength="90.5" lengthAdjust="spacingAndGlyphs">Immune reconstitution</text>
<text x="309.4" y="381" font-size="6.5" fill="#1aa1d6" stroke="#1aa1d6" stroke-width="0.22" text-anchor="start" textLength="135.2" lengthAdjust="spacingAndGlyphs">Above optimal exposure: HR = 0.43 (0.26-0.7)</text>
<text x="458.7" y="381" font-size="6.5" fill="#1aa1d6" stroke="#1aa1d6" stroke-width="0.22" text-anchor="start" textLength="33.6" lengthAdjust="spacingAndGlyphs">p&lt;0.001***</text>
<polyline points="327.00,436.90 327.80,435.40 331.60,433.80 334.00,433.60 335.50,430.90 341.20,429.30 342.20,427.40 346.00,427.30 348.90,424.90 351.80,423.00 354.20,422.50 354.70,420.90 358.50,419.70 364.30,419.10 367.20,418.30 369.10,416.00 372.00,414.50 374.50,413.50 383.10,412.40 390.20,410.60 395.90,409.20 400.10,406.70 407.30,405.70 415.80,404.70 425.70,403.80 432.90,403.30 438.00,402.90 443.80,402.40 454.10,401.40 465.80,400.20 470.20,398.00 481.90,397.30 487.70,396.10 493.60,395.60 511.80,395.60" fill="none" stroke="#1b9b77" stroke-width="1.2" stroke-linejoin="miter"/>
<polyline points="311.50,436.90 327.00,436.90 331.60,435.20 336.40,434.10 341.20,432.90 347.00,431.60 350.80,430.70 355.70,429.20 360.50,428.30 366.20,427.40 369.10,426.00 372.00,425.00 376.00,424.20 383.10,423.40 390.20,422.30 397.30,420.60 401.60,419.50 411.50,418.00 422.90,417.00 432.90,416.30 443.80,416.00 454.10,415.10 465.80,414.10 470.20,412.20 481.90,411.60 487.70,410.50 495.00,409.40 511.80,409.40" fill="none" stroke="#1ea6dc" stroke-width="1.2" stroke-linejoin="miter"/>
<text x="286.8" y="472.3" font-size="6.8" fill="#222" stroke="#222" stroke-width="0.22" text-anchor="start" textLength="48.5" lengthAdjust="spacingAndGlyphs">Number at risk</text>
<line x1="286.6" y1="478.1" x2="301.5" y2="478.1" stroke="#1b9b77" stroke-width="1.3"/>
<text x="311.3" y="480.95000000000005" font-size="7" fill="#1a9a78" stroke="#1a9a78" stroke-width="0.22" text-anchor="middle">88</text>
<text x="359.075" y="480.95000000000005" font-size="7" fill="#1a9a78" stroke="#1a9a78" stroke-width="0.22" text-anchor="middle">55</text>
<text x="406.85" y="480.95000000000005" font-size="7" fill="#1a9a78" stroke="#1a9a78" stroke-width="0.22" text-anchor="middle">29</text>
<text x="454.625" y="480.95000000000005" font-size="7" fill="#1a9a78" stroke="#1a9a78" stroke-width="0.22" text-anchor="middle">20</text>
<text x="502.4" y="480.95000000000005" font-size="7" fill="#1a9a78" stroke="#1a9a78" stroke-width="0.22" text-anchor="middle">9</text>
<line x1="286.6" y1="485.9" x2="301.5" y2="485.9" stroke="#1ea6dc" stroke-width="1.3"/>
<text x="311.3" y="488.75" font-size="7" fill="#1aa1d6" stroke="#1aa1d6" stroke-width="0.22" text-anchor="middle">46</text>
<text x="359.075" y="488.75" font-size="7" fill="#1aa1d6" stroke="#1aa1d6" stroke-width="0.22" text-anchor="middle">34</text>
<text x="406.85" y="488.75" font-size="7" fill="#1aa1d6" stroke="#1aa1d6" stroke-width="0.22" text-anchor="middle">19</text>
<text x="454.625" y="488.75" font-size="7" fill="#1aa1d6" stroke="#1aa1d6" stroke-width="0.22" text-anchor="middle">9</text>
<text x="502.4" y="488.75" font-size="7" fill="#1aa1d6" stroke="#1aa1d6" stroke-width="0.22" text-anchor="middle">7</text>
</svg></div></body></html>
